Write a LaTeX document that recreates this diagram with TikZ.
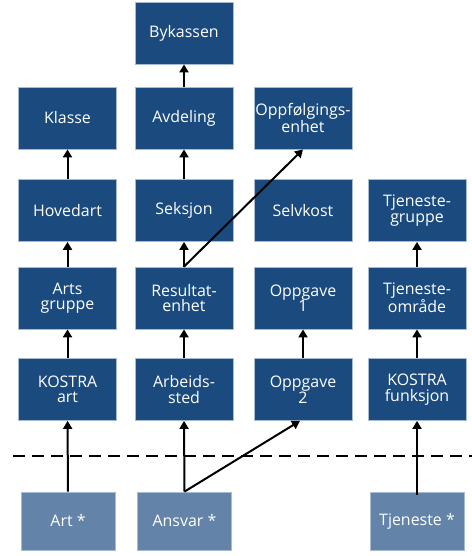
\documentclass[tikz,border=0pt]{standalone}
\usepackage{fontspec}
\setmainfont{Open Sans}
\usepackage{xcolor}
\usepackage{tikz}
\usetikzlibrary{arrows.meta, positioning}

\definecolor{morkbla}{HTML}{1B4A7E}
\definecolor{lysbla}{HTML}{6383A9}
\definecolor{kantbla}{HTML}{A7BBD3}

\tikzset{
    boks/.style={rectangle, fill=morkbla, draw=kantbla, line width=0.8bp,
        minimum width=98bp, minimum height=62bp, inner sep=0.5bp, align=center,
        text=white, font=\fontsize{16}{15.5}\selectfont},
    kilde/.style={boks, fill=lysbla, minimum width=94bp, minimum height=58bp},
    pil/.style={-{Triangle[length=8bp,width=9bp]}, line width=2bp}
}

\begin{document}
\begin{tikzpicture}[x=1bp, y=-1bp]
    \useasboundingbox (0,0) rectangle (472,556);

    % 1. Øverste nivåer
    \node[boks] (bykassen) at (184,33) {Bykassen};
    \node[boks] (klasse) at (67.5,118) {Klasse};
    \node[boks] (avdeling) at (184,118) {Avdeling};
    \node[boks] (oppf) at (303,118) {Oppfølgings-\\enhet};

    \node[boks] (hovedart) at (67.5,210.5) {Hovedart};
    \node[boks] (seksjon) at (184,210.5) {Seksjon};
    \node[boks] (selvkost) at (303,210.5) {Selvkost};
    \node[boks] (tjgruppe) at (417,210.5) {Tjeneste-\\gruppe};

    \node[boks] (artsgruppe) at (67.5,298) {Arts\\gruppe};
    \node[boks] (resenhet) at (184,298) {Resultat-\\enhet};
    \node[boks] (oppg1) at (303,298) {Oppgave\\1};
    \node[boks] (tjomraade) at (417,298) {Tjeneste-\\område};

    \node[boks] (kostraart) at (67.5,389.5) {KOSTRA\\art};
    \node[boks] (arbsted) at (184,389.5) {Arbeids-\\sted};
    \node[boks] (oppg2) at (303,389.5) {Oppgave\\2};
    \node[boks] (kostrafunk) at (417,389.5) {KOSTRA\\funksjon};

    % 2. Skillelinje
    \coordinate (skille-v) at (13,456);
    \coordinate (skille-h) at (472,456);
    \draw[dashed, dash pattern=on 12bp off 7bp, line width=1.8bp] (skille-v) -- (skille-h);

    % 3. Kildedimensjoner
    \node[kilde] (art) at (68,521) {Art *};
    \node[kilde] (ansvar) at (184.5,521) {Ansvar *};
    \node[kilde] (tjeneste) at (417,521) {Tjeneste *};

    % 4. Piler
    \draw[pil] (avdeling) -- (bykassen);
    \draw[pil] (hovedart) -- (klasse);
    \draw[pil] (seksjon) -- (avdeling);
    \draw[pil] (artsgruppe) -- (hovedart);
    \draw[pil] (resenhet) -- (seksjon);
    \draw[pil] (resenhet.north) -- (oppf.south);
    \draw[pil] (tjomraade) -- (tjgruppe);
    \draw[pil] (kostraart) -- (artsgruppe);
    \draw[pil] (arbsted) -- (resenhet);
    \draw[pil] (oppg2) -- (oppg1);
    \draw[pil] (kostrafunk) -- (tjomraade);
    \draw[pil] (art) -- (kostraart);
    \draw[pil] (ansvar.north) -- (arbsted.south);
    \draw[pil] (ansvar.north) -- ([xshift=-3bp]oppg2.south);
    \draw[pil] ([yshift=-3bp]tjeneste.north) -- (kostrafunk);
\end{tikzpicture}
\end{document}
